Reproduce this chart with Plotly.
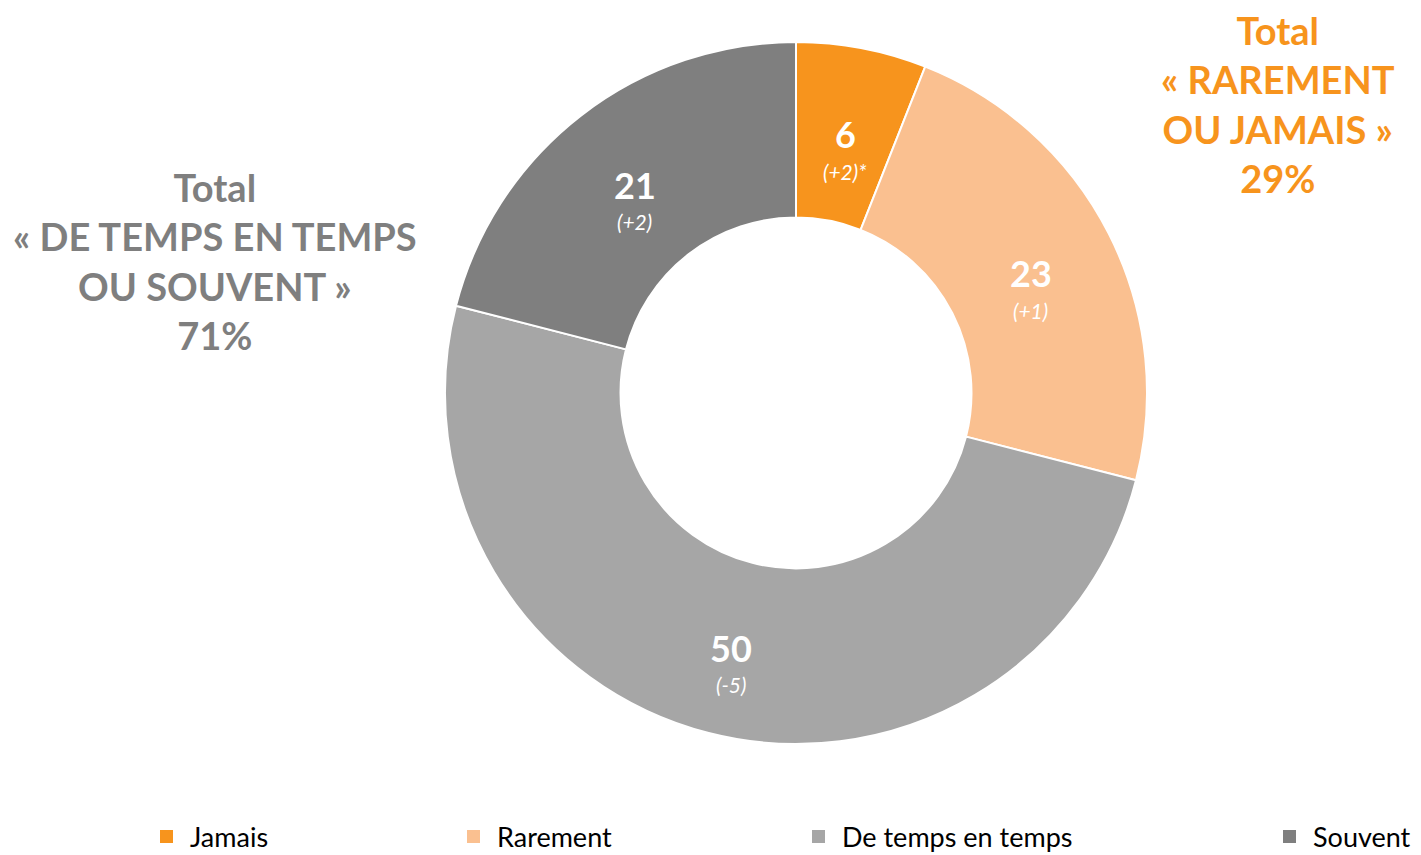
import numpy as np
import plotly.graph_objects as go

categories = ["Jamais", "Rarement", "De temps en temps", "Souvent"]
values = [6, 23, 50, 21]
changes = ["(+2)*", "(+1)", "(-5)", "(+2)"]
colors = ["#F7941D", "#FAC090", "#A6A6A6", "#7F7F7F"]

total_rare = "Total<br>« RAREMENT<br>OU JAMAIS »<br>29%"
total_often = "Total<br>« DE TEMPS EN TEMPS<br>OU SOUVENT »<br>71%"

# page body has an 8px margin: figure is drawn from (8, 8)
OFF = 8
W, H = 1421 - OFF, 855 - OFF
FONT = "Lato"


def px(x):
    return (x - OFF) / W


def py(y):
    return 1 - (y - OFF) / H


CX, CY, R, HOLE = 796, 393, 351, 0.5

fig = go.Figure(go.Pie(
    labels=categories, values=values,
    textinfo="none", sort=False, direction="clockwise", rotation=0, hole=HOLE,
    marker=dict(colors=colors, line=dict(color="white", width=2)),
    domain=dict(x=[px(CX - R), px(CX + R)], y=[py(CY + R), py(CY - R)]),
    showlegend=False, hoverinfo="label+value",
))

annotations = []
# slice labels placed at the middle of each ring sector
vals = np.array(values, dtype=float)
mid_frac = (np.cumsum(vals) - vals / 2) / vals.sum()
r_mid = R * (1 + HOLE) / 2
for v, c, f in zip(values, changes, mid_frac):
    ang = 2 * np.pi * f
    lx = CX + r_mid * np.sin(ang)
    ly = CY - r_mid * np.cos(ang)
    annotations.append(dict(text=f"<b>{v}</b>", x=px(lx), y=py(ly), xref="paper", yref="paper",
                            xanchor="center", yanchor="middle", showarrow=False,
                            font=dict(family=FONT, size=36, color="white")))
    annotations.append(dict(text=f"<i>{c}</i>", x=px(lx), y=py(ly + 37), xref="paper", yref="paper",
                            xanchor="center", yanchor="middle", showarrow=False,
                            font=dict(family=FONT, size=21, color="white")))

annotations += [
    dict(text=total_rare, x=px(1278), y=py(104), xref="paper", yref="paper",
         xanchor="center", yanchor="middle",
         showarrow=False, align="center", font=dict(family=FONT, size=38, color="#F7941D", weight="bold")),
    dict(text=total_often, x=px(215), y=py(261), xref="paper", yref="paper",
         xanchor="center", yanchor="middle",
         showarrow=False, align="center", font=dict(family=FONT, size=38, color="#7F7F7F", weight="bold")),
]
shapes = []
legend_x = [160, 467, 812, 1283]
for cat, col, lx in zip(categories, colors, legend_x):
    shapes.append(dict(type="rect", xref="paper", yref="paper",
                       x0=px(lx), x1=px(lx + 13), y0=py(843), y1=py(830),
                       fillcolor=col, line=dict(width=0)))
    annotations.append(dict(text=cat, x=px(lx + 28), y=py(836), xref="paper", yref="paper",
                            xanchor="left", yanchor="middle", showarrow=False,
                            font=dict(family=FONT, size=27, color="#000000")))

fig.update_layout(
    width=W, height=H, margin=dict(l=0, r=0, t=0, b=0),
    paper_bgcolor="white", plot_bgcolor="white",
    annotations=annotations, shapes=shapes,
)

fig.write_html("out.html")
